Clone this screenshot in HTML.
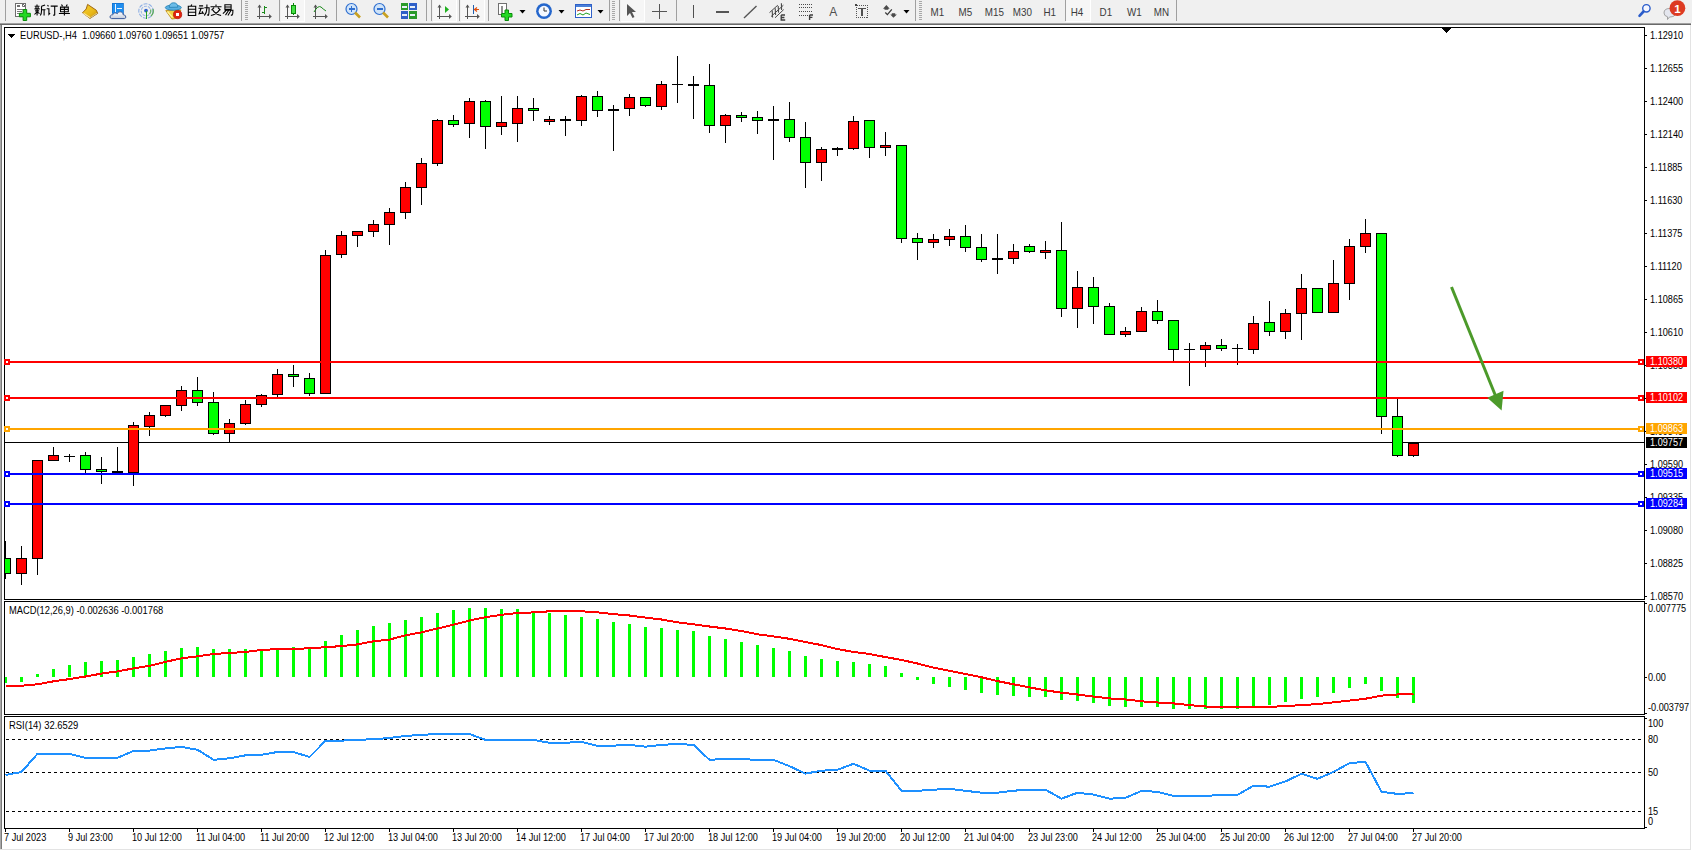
<!DOCTYPE html>
<html><head><meta charset="utf-8"><title>MT4 EURUSD H4</title>
<style>
html,body{margin:0;padding:0;width:1692px;height:851px;overflow:hidden;background:#FFFFFF;}
svg{display:block;position:absolute;left:0;top:0;}
text{font-family:"Liberation Sans",sans-serif;}
</style></head><body>
<svg width="1692" height="851" viewBox="0 0 1692 851" shape-rendering="crispEdges">
<rect x="0" y="0" width="1692" height="851" fill="#FFFFFF"/>
<rect x="0" y="0" width="1692" height="23" fill="#F0F0F0"/>
<rect x="0" y="23" width="1691" height="1" fill="#A0A0A0"/>
<rect x="0" y="24" width="1691" height="1" fill="#696969"/>
<rect x="2" y="25" width="1688" height="824" fill="#FFFFFF"/>
<rect x="0" y="25" width="1" height="824" fill="#A9A9A9"/>
<rect x="1" y="25" width="1" height="824" fill="#7A7A7A"/>
<rect x="1690" y="25" width="1" height="825" fill="#E3E3E3"/>
<rect x="0" y="849" width="1691" height="1" fill="#E3E3E3"/>
<rect x="4" y="27" width="1641" height="1" fill="#000"/><rect x="4" y="599" width="1641" height="1" fill="#000"/><rect x="4" y="27" width="1" height="573" fill="#000"/><rect x="1644" y="27" width="1" height="573" fill="#000"/>
<rect x="4" y="601" width="1641" height="1" fill="#000"/><rect x="4" y="714" width="1641" height="1" fill="#000"/><rect x="4" y="601" width="1" height="114" fill="#000"/><rect x="1644" y="601" width="1" height="114" fill="#000"/>
<rect x="4" y="716" width="1641" height="1" fill="#000"/><rect x="4" y="828" width="1641" height="1" fill="#000"/><rect x="4" y="716" width="1" height="113" fill="#000"/><rect x="1644" y="716" width="1" height="113" fill="#000"/>
<defs><clipPath id="cm"><rect x="5" y="28" width="1639" height="571"/></clipPath><clipPath id="cmacd"><rect x="5" y="602" width="1639" height="112"/></clipPath><clipPath id="crsi"><rect x="5" y="717" width="1639" height="111"/></clipPath></defs>
<g clip-path="url(#cm)"><rect x="5" y="442" width="1639" height="1" fill="#000"/><rect x="5" y="541" width="1" height="38" fill="#000"/><rect x="0" y="558" width="11" height="16" fill="#000"/><rect x="1" y="559" width="9" height="14" fill="#00FF00"/><rect x="21" y="546" width="1" height="39" fill="#000"/><rect x="16" y="558" width="11" height="16" fill="#000"/><rect x="17" y="559" width="9" height="14" fill="#FF0000"/><rect x="37" y="460" width="1" height="115" fill="#000"/><rect x="32" y="460" width="11" height="99" fill="#000"/><rect x="33" y="461" width="9" height="97" fill="#FF0000"/><rect x="53" y="447" width="1" height="14" fill="#000"/><rect x="48" y="455" width="11" height="6" fill="#000"/><rect x="49" y="456" width="9" height="4" fill="#FF0000"/><rect x="69" y="454" width="1" height="8" fill="#000"/><rect x="64" y="456" width="11" height="1" fill="#000"/><rect x="85" y="452" width="1" height="21" fill="#000"/><rect x="80" y="455" width="11" height="15" fill="#000"/><rect x="81" y="456" width="9" height="13" fill="#00FF00"/><rect x="101" y="457" width="1" height="27" fill="#000"/><rect x="96" y="469" width="11" height="3" fill="#000"/><rect x="97" y="470" width="9" height="1" fill="#00FF00"/><rect x="117" y="447" width="1" height="27" fill="#000"/><rect x="112" y="471" width="11" height="2" fill="#000"/><rect x="133" y="422" width="1" height="64" fill="#000"/><rect x="128" y="425" width="11" height="48" fill="#000"/><rect x="129" y="426" width="9" height="46" fill="#FF0000"/><rect x="149" y="412" width="1" height="24" fill="#000"/><rect x="144" y="415" width="11" height="12" fill="#000"/><rect x="145" y="416" width="9" height="10" fill="#FF0000"/><rect x="165" y="405" width="1" height="12" fill="#000"/><rect x="160" y="405" width="11" height="11" fill="#000"/><rect x="161" y="406" width="9" height="9" fill="#FF0000"/><rect x="181" y="386" width="1" height="25" fill="#000"/><rect x="176" y="390" width="11" height="16" fill="#000"/><rect x="177" y="391" width="9" height="14" fill="#FF0000"/><rect x="197" y="377" width="1" height="29" fill="#000"/><rect x="192" y="390" width="11" height="13" fill="#000"/><rect x="193" y="391" width="9" height="11" fill="#00FF00"/><rect x="213" y="392" width="1" height="43" fill="#000"/><rect x="208" y="402" width="11" height="32" fill="#000"/><rect x="209" y="403" width="9" height="30" fill="#00FF00"/><rect x="229" y="419" width="1" height="23" fill="#000"/><rect x="224" y="423" width="11" height="11" fill="#000"/><rect x="225" y="424" width="9" height="9" fill="#FF0000"/><rect x="245" y="400" width="1" height="25" fill="#000"/><rect x="240" y="404" width="11" height="20" fill="#000"/><rect x="241" y="405" width="9" height="18" fill="#FF0000"/><rect x="261" y="394" width="1" height="13" fill="#000"/><rect x="256" y="395" width="11" height="10" fill="#000"/><rect x="257" y="396" width="9" height="8" fill="#FF0000"/><rect x="277" y="369" width="1" height="28" fill="#000"/><rect x="272" y="374" width="11" height="21" fill="#000"/><rect x="273" y="375" width="9" height="19" fill="#FF0000"/><rect x="293" y="365" width="1" height="22" fill="#000"/><rect x="288" y="374" width="11" height="3" fill="#000"/><rect x="289" y="375" width="9" height="1" fill="#00FF00"/><rect x="309" y="373" width="1" height="23" fill="#000"/><rect x="304" y="378" width="11" height="16" fill="#000"/><rect x="305" y="379" width="9" height="14" fill="#00FF00"/><rect x="325" y="250" width="1" height="144" fill="#000"/><rect x="320" y="255" width="11" height="139" fill="#000"/><rect x="321" y="256" width="9" height="137" fill="#FF0000"/><rect x="341" y="231" width="1" height="27" fill="#000"/><rect x="336" y="235" width="11" height="20" fill="#000"/><rect x="337" y="236" width="9" height="18" fill="#FF0000"/><rect x="357" y="231" width="1" height="16" fill="#000"/><rect x="352" y="231" width="11" height="5" fill="#000"/><rect x="353" y="232" width="9" height="3" fill="#FF0000"/><rect x="373" y="220" width="1" height="17" fill="#000"/><rect x="368" y="224" width="11" height="8" fill="#000"/><rect x="369" y="225" width="9" height="6" fill="#FF0000"/><rect x="389" y="208" width="1" height="37" fill="#000"/><rect x="384" y="212" width="11" height="13" fill="#000"/><rect x="385" y="213" width="9" height="11" fill="#FF0000"/><rect x="405" y="182" width="1" height="37" fill="#000"/><rect x="400" y="187" width="11" height="26" fill="#000"/><rect x="401" y="188" width="9" height="24" fill="#FF0000"/><rect x="421" y="158" width="1" height="47" fill="#000"/><rect x="416" y="163" width="11" height="25" fill="#000"/><rect x="417" y="164" width="9" height="23" fill="#FF0000"/><rect x="437" y="119" width="1" height="47" fill="#000"/><rect x="432" y="120" width="11" height="44" fill="#000"/><rect x="433" y="121" width="9" height="42" fill="#FF0000"/><rect x="453" y="115" width="1" height="12" fill="#000"/><rect x="448" y="120" width="11" height="5" fill="#000"/><rect x="449" y="121" width="9" height="3" fill="#00FF00"/><rect x="469" y="98" width="1" height="40" fill="#000"/><rect x="464" y="101" width="11" height="23" fill="#000"/><rect x="465" y="102" width="9" height="21" fill="#FF0000"/><rect x="485" y="100" width="1" height="49" fill="#000"/><rect x="480" y="101" width="11" height="26" fill="#000"/><rect x="481" y="102" width="9" height="24" fill="#00FF00"/><rect x="501" y="96" width="1" height="39" fill="#000"/><rect x="496" y="122" width="11" height="5" fill="#000"/><rect x="497" y="123" width="9" height="3" fill="#FF0000"/><rect x="517" y="96" width="1" height="46" fill="#000"/><rect x="512" y="108" width="11" height="16" fill="#000"/><rect x="513" y="109" width="9" height="14" fill="#FF0000"/><rect x="533" y="98" width="1" height="23" fill="#000"/><rect x="528" y="108" width="11" height="3" fill="#000"/><rect x="529" y="109" width="9" height="1" fill="#00FF00"/><rect x="549" y="116" width="1" height="9" fill="#000"/><rect x="544" y="119" width="11" height="3" fill="#000"/><rect x="545" y="120" width="9" height="1" fill="#FF0000"/><rect x="565" y="116" width="1" height="20" fill="#000"/><rect x="560" y="119" width="11" height="2" fill="#000"/><rect x="581" y="95" width="1" height="31" fill="#000"/><rect x="576" y="96" width="11" height="25" fill="#000"/><rect x="577" y="97" width="9" height="23" fill="#FF0000"/><rect x="597" y="91" width="1" height="26" fill="#000"/><rect x="592" y="96" width="11" height="15" fill="#000"/><rect x="593" y="97" width="9" height="13" fill="#00FF00"/><rect x="613" y="105" width="1" height="46" fill="#000"/><rect x="608" y="109" width="11" height="2" fill="#000"/><rect x="629" y="94" width="1" height="22" fill="#000"/><rect x="624" y="97" width="11" height="12" fill="#000"/><rect x="625" y="98" width="9" height="10" fill="#FF0000"/><rect x="645" y="97" width="1" height="10" fill="#000"/><rect x="640" y="97" width="11" height="9" fill="#000"/><rect x="641" y="98" width="9" height="7" fill="#00FF00"/><rect x="661" y="81" width="1" height="29" fill="#000"/><rect x="656" y="84" width="11" height="23" fill="#000"/><rect x="657" y="85" width="9" height="21" fill="#FF0000"/><rect x="677" y="56" width="1" height="47" fill="#000"/><rect x="672" y="84" width="11" height="1" fill="#000"/><rect x="693" y="76" width="1" height="43" fill="#000"/><rect x="688" y="84" width="11" height="2" fill="#000"/><rect x="709" y="64" width="1" height="69" fill="#000"/><rect x="704" y="85" width="11" height="41" fill="#000"/><rect x="705" y="86" width="9" height="39" fill="#00FF00"/><rect x="725" y="114" width="1" height="29" fill="#000"/><rect x="720" y="115" width="11" height="11" fill="#000"/><rect x="721" y="116" width="9" height="9" fill="#FF0000"/><rect x="741" y="112" width="1" height="10" fill="#000"/><rect x="736" y="115" width="11" height="3" fill="#000"/><rect x="737" y="116" width="9" height="1" fill="#00FF00"/><rect x="757" y="111" width="1" height="23" fill="#000"/><rect x="752" y="117" width="11" height="4" fill="#000"/><rect x="753" y="118" width="9" height="2" fill="#00FF00"/><rect x="773" y="106" width="1" height="54" fill="#000"/><rect x="768" y="119" width="11" height="2" fill="#000"/><rect x="789" y="102" width="1" height="40" fill="#000"/><rect x="784" y="119" width="11" height="19" fill="#000"/><rect x="785" y="120" width="9" height="17" fill="#00FF00"/><rect x="805" y="122" width="1" height="66" fill="#000"/><rect x="800" y="137" width="11" height="26" fill="#000"/><rect x="801" y="138" width="9" height="24" fill="#00FF00"/><rect x="821" y="147" width="1" height="34" fill="#000"/><rect x="816" y="149" width="11" height="14" fill="#000"/><rect x="817" y="150" width="9" height="12" fill="#FF0000"/><rect x="837" y="147" width="1" height="9" fill="#000"/><rect x="832" y="148" width="11" height="2" fill="#000"/><rect x="853" y="116" width="1" height="34" fill="#000"/><rect x="848" y="121" width="11" height="28" fill="#000"/><rect x="849" y="122" width="9" height="26" fill="#FF0000"/><rect x="869" y="120" width="1" height="38" fill="#000"/><rect x="864" y="120" width="11" height="28" fill="#000"/><rect x="865" y="121" width="9" height="26" fill="#00FF00"/><rect x="885" y="132" width="1" height="24" fill="#000"/><rect x="880" y="145" width="11" height="3" fill="#000"/><rect x="881" y="146" width="9" height="1" fill="#FF0000"/><rect x="901" y="145" width="1" height="98" fill="#000"/><rect x="896" y="145" width="11" height="94" fill="#000"/><rect x="897" y="146" width="9" height="92" fill="#00FF00"/><rect x="917" y="233" width="1" height="27" fill="#000"/><rect x="912" y="238" width="11" height="5" fill="#000"/><rect x="913" y="239" width="9" height="3" fill="#00FF00"/><rect x="933" y="234" width="1" height="14" fill="#000"/><rect x="928" y="239" width="11" height="4" fill="#000"/><rect x="929" y="240" width="9" height="2" fill="#FF0000"/><rect x="949" y="229" width="1" height="17" fill="#000"/><rect x="944" y="236" width="11" height="4" fill="#000"/><rect x="945" y="237" width="9" height="2" fill="#FF0000"/><rect x="965" y="225" width="1" height="27" fill="#000"/><rect x="960" y="236" width="11" height="12" fill="#000"/><rect x="961" y="237" width="9" height="10" fill="#00FF00"/><rect x="981" y="234" width="1" height="28" fill="#000"/><rect x="976" y="247" width="11" height="13" fill="#000"/><rect x="977" y="248" width="9" height="11" fill="#00FF00"/><rect x="997" y="234" width="1" height="40" fill="#000"/><rect x="992" y="258" width="11" height="2" fill="#000"/><rect x="1013" y="244" width="1" height="20" fill="#000"/><rect x="1008" y="251" width="11" height="8" fill="#000"/><rect x="1009" y="252" width="9" height="6" fill="#FF0000"/><rect x="1029" y="244" width="1" height="9" fill="#000"/><rect x="1024" y="246" width="11" height="6" fill="#000"/><rect x="1025" y="247" width="9" height="4" fill="#00FF00"/><rect x="1045" y="241" width="1" height="18" fill="#000"/><rect x="1040" y="250" width="11" height="3" fill="#000"/><rect x="1041" y="251" width="9" height="1" fill="#FF0000"/><rect x="1061" y="222" width="1" height="95" fill="#000"/><rect x="1056" y="250" width="11" height="59" fill="#000"/><rect x="1057" y="251" width="9" height="57" fill="#00FF00"/><rect x="1077" y="271" width="1" height="57" fill="#000"/><rect x="1072" y="287" width="11" height="22" fill="#000"/><rect x="1073" y="288" width="9" height="20" fill="#FF0000"/><rect x="1093" y="277" width="1" height="47" fill="#000"/><rect x="1088" y="287" width="11" height="20" fill="#000"/><rect x="1089" y="288" width="9" height="18" fill="#00FF00"/><rect x="1109" y="303" width="1" height="32" fill="#000"/><rect x="1104" y="306" width="11" height="29" fill="#000"/><rect x="1105" y="307" width="9" height="27" fill="#00FF00"/><rect x="1125" y="327" width="1" height="10" fill="#000"/><rect x="1120" y="331" width="11" height="4" fill="#000"/><rect x="1121" y="332" width="9" height="2" fill="#FF0000"/><rect x="1141" y="307" width="1" height="25" fill="#000"/><rect x="1136" y="311" width="11" height="21" fill="#000"/><rect x="1137" y="312" width="9" height="19" fill="#FF0000"/><rect x="1157" y="300" width="1" height="24" fill="#000"/><rect x="1152" y="311" width="11" height="10" fill="#000"/><rect x="1153" y="312" width="9" height="8" fill="#00FF00"/><rect x="1173" y="320" width="1" height="41" fill="#000"/><rect x="1168" y="320" width="11" height="30" fill="#000"/><rect x="1169" y="321" width="9" height="28" fill="#00FF00"/><rect x="1189" y="343" width="1" height="43" fill="#000"/><rect x="1184" y="349" width="11" height="1" fill="#000"/><rect x="1205" y="342" width="1" height="25" fill="#000"/><rect x="1200" y="345" width="11" height="5" fill="#000"/><rect x="1201" y="346" width="9" height="3" fill="#FF0000"/><rect x="1221" y="339" width="1" height="12" fill="#000"/><rect x="1216" y="345" width="11" height="4" fill="#000"/><rect x="1217" y="346" width="9" height="2" fill="#00FF00"/><rect x="1237" y="344" width="1" height="21" fill="#000"/><rect x="1232" y="348" width="11" height="1" fill="#000"/><rect x="1253" y="316" width="1" height="38" fill="#000"/><rect x="1248" y="323" width="11" height="27" fill="#000"/><rect x="1249" y="324" width="9" height="25" fill="#FF0000"/><rect x="1269" y="301" width="1" height="35" fill="#000"/><rect x="1264" y="322" width="11" height="10" fill="#000"/><rect x="1265" y="323" width="9" height="8" fill="#00FF00"/><rect x="1285" y="309" width="1" height="30" fill="#000"/><rect x="1280" y="313" width="11" height="19" fill="#000"/><rect x="1281" y="314" width="9" height="17" fill="#FF0000"/><rect x="1301" y="274" width="1" height="66" fill="#000"/><rect x="1296" y="288" width="11" height="26" fill="#000"/><rect x="1297" y="289" width="9" height="24" fill="#FF0000"/><rect x="1317" y="288" width="1" height="25" fill="#000"/><rect x="1312" y="288" width="11" height="25" fill="#000"/><rect x="1313" y="289" width="9" height="23" fill="#00FF00"/><rect x="1333" y="260" width="1" height="53" fill="#000"/><rect x="1328" y="283" width="11" height="30" fill="#000"/><rect x="1329" y="284" width="9" height="28" fill="#FF0000"/><rect x="1349" y="239" width="1" height="61" fill="#000"/><rect x="1344" y="246" width="11" height="38" fill="#000"/><rect x="1345" y="247" width="9" height="36" fill="#FF0000"/><rect x="1365" y="219" width="1" height="34" fill="#000"/><rect x="1360" y="233" width="11" height="14" fill="#000"/><rect x="1361" y="234" width="9" height="12" fill="#FF0000"/><rect x="1381" y="233" width="1" height="201" fill="#000"/><rect x="1376" y="233" width="11" height="184" fill="#000"/><rect x="1377" y="234" width="9" height="182" fill="#00FF00"/><rect x="1397" y="399" width="1" height="58" fill="#000"/><rect x="1392" y="416" width="11" height="40" fill="#000"/><rect x="1393" y="417" width="9" height="38" fill="#00FF00"/><rect x="1413" y="443" width="1" height="14" fill="#000"/><rect x="1408" y="443" width="11" height="13" fill="#000"/><rect x="1409" y="444" width="9" height="11" fill="#FF0000"/><rect x="5" y="361" width="1639" height="2" fill="#FF0000"/><rect x="5" y="397" width="1639" height="2" fill="#FF0000"/><rect x="5" y="428" width="1639" height="2" fill="#FFA500"/><rect x="5" y="473" width="1639" height="2" fill="#0000FF"/><rect x="5" y="503" width="1639" height="2" fill="#0000FF"/></g>
<rect x="4" y="359" width="6" height="6" fill="#FF0000"/><rect x="6" y="361" width="2" height="2" fill="#FFF"/>
<rect x="1638" y="359" width="6" height="6" fill="#FF0000"/><rect x="1640" y="361" width="2" height="2" fill="#FFF"/>
<rect x="4" y="395" width="6" height="6" fill="#FF0000"/><rect x="6" y="397" width="2" height="2" fill="#FFF"/>
<rect x="1638" y="395" width="6" height="6" fill="#FF0000"/><rect x="1640" y="397" width="2" height="2" fill="#FFF"/>
<rect x="4" y="426" width="6" height="6" fill="#FFA500"/><rect x="6" y="428" width="2" height="2" fill="#FFF"/>
<rect x="1638" y="426" width="6" height="6" fill="#FFA500"/><rect x="1640" y="428" width="2" height="2" fill="#FFF"/>
<rect x="4" y="471" width="6" height="6" fill="#0000FF"/><rect x="6" y="473" width="2" height="2" fill="#FFF"/>
<rect x="1638" y="471" width="6" height="6" fill="#0000FF"/><rect x="1640" y="473" width="2" height="2" fill="#FFF"/>
<rect x="4" y="501" width="6" height="6" fill="#0000FF"/><rect x="6" y="503" width="2" height="2" fill="#FFF"/>
<rect x="1638" y="501" width="6" height="6" fill="#0000FF"/><rect x="1640" y="503" width="2" height="2" fill="#FFF"/>
<g fill="#4C9A2A" stroke="none" shape-rendering="geometricPrecision"><line x1="1451.5" y1="287" x2="1496" y2="397" stroke="#4C9A2A" stroke-width="3"/><polygon points="1487.3,397.8 1503.5,390.8 1501.6,410.5"/></g>
<polygon points="1441.5,28 1451.5,28 1446.5,33.5" fill="#000"/>
<g clip-path="url(#cmacd)"><rect x="4" y="677" width="3" height="6" fill="#00FF00"/><rect x="20" y="677" width="3" height="5" fill="#00FF00"/><rect x="36" y="674" width="3" height="3" fill="#00FF00"/><rect x="52" y="669" width="3" height="8" fill="#00FF00"/><rect x="68" y="665" width="3" height="12" fill="#00FF00"/><rect x="84" y="662" width="3" height="15" fill="#00FF00"/><rect x="100" y="661" width="3" height="16" fill="#00FF00"/><rect x="116" y="660" width="3" height="17" fill="#00FF00"/><rect x="132" y="657" width="3" height="20" fill="#00FF00"/><rect x="148" y="654" width="3" height="23" fill="#00FF00"/><rect x="164" y="651" width="3" height="26" fill="#00FF00"/><rect x="180" y="648" width="3" height="29" fill="#00FF00"/><rect x="196" y="647" width="3" height="30" fill="#00FF00"/><rect x="212" y="649" width="3" height="28" fill="#00FF00"/><rect x="228" y="649" width="3" height="28" fill="#00FF00"/><rect x="244" y="649" width="3" height="28" fill="#00FF00"/><rect x="260" y="649" width="3" height="28" fill="#00FF00"/><rect x="276" y="648" width="3" height="29" fill="#00FF00"/><rect x="292" y="647" width="3" height="30" fill="#00FF00"/><rect x="308" y="648" width="3" height="29" fill="#00FF00"/><rect x="324" y="641" width="3" height="36" fill="#00FF00"/><rect x="340" y="635" width="3" height="42" fill="#00FF00"/><rect x="356" y="630" width="3" height="47" fill="#00FF00"/><rect x="372" y="626" width="3" height="51" fill="#00FF00"/><rect x="388" y="623" width="3" height="54" fill="#00FF00"/><rect x="404" y="620" width="3" height="57" fill="#00FF00"/><rect x="420" y="617" width="3" height="60" fill="#00FF00"/><rect x="436" y="613" width="3" height="64" fill="#00FF00"/><rect x="452" y="610" width="3" height="67" fill="#00FF00"/><rect x="468" y="608" width="3" height="69" fill="#00FF00"/><rect x="484" y="608" width="3" height="69" fill="#00FF00"/><rect x="500" y="609" width="3" height="68" fill="#00FF00"/><rect x="516" y="609" width="3" height="68" fill="#00FF00"/><rect x="532" y="611" width="3" height="66" fill="#00FF00"/><rect x="548" y="613" width="3" height="64" fill="#00FF00"/><rect x="564" y="615" width="3" height="62" fill="#00FF00"/><rect x="580" y="617" width="3" height="60" fill="#00FF00"/><rect x="596" y="619" width="3" height="58" fill="#00FF00"/><rect x="612" y="622" width="3" height="55" fill="#00FF00"/><rect x="628" y="624" width="3" height="53" fill="#00FF00"/><rect x="644" y="627" width="3" height="50" fill="#00FF00"/><rect x="660" y="628" width="3" height="49" fill="#00FF00"/><rect x="676" y="630" width="3" height="47" fill="#00FF00"/><rect x="692" y="631" width="3" height="46" fill="#00FF00"/><rect x="708" y="636" width="3" height="41" fill="#00FF00"/><rect x="724" y="639" width="3" height="38" fill="#00FF00"/><rect x="740" y="642" width="3" height="35" fill="#00FF00"/><rect x="756" y="645" width="3" height="32" fill="#00FF00"/><rect x="772" y="648" width="3" height="29" fill="#00FF00"/><rect x="788" y="651" width="3" height="26" fill="#00FF00"/><rect x="804" y="656" width="3" height="21" fill="#00FF00"/><rect x="820" y="659" width="3" height="18" fill="#00FF00"/><rect x="836" y="661" width="3" height="16" fill="#00FF00"/><rect x="852" y="662" width="3" height="15" fill="#00FF00"/><rect x="868" y="664" width="3" height="13" fill="#00FF00"/><rect x="884" y="666" width="3" height="11" fill="#00FF00"/><rect x="900" y="673" width="3" height="4" fill="#00FF00"/><rect x="916" y="677" width="3" height="3" fill="#00FF00"/><rect x="932" y="677" width="3" height="7" fill="#00FF00"/><rect x="948" y="677" width="3" height="10" fill="#00FF00"/><rect x="964" y="677" width="3" height="13" fill="#00FF00"/><rect x="980" y="677" width="3" height="16" fill="#00FF00"/><rect x="996" y="677" width="3" height="18" fill="#00FF00"/><rect x="1012" y="677" width="3" height="19" fill="#00FF00"/><rect x="1028" y="677" width="3" height="20" fill="#00FF00"/><rect x="1044" y="677" width="3" height="20" fill="#00FF00"/><rect x="1060" y="677" width="3" height="23" fill="#00FF00"/><rect x="1076" y="677" width="3" height="24" fill="#00FF00"/><rect x="1092" y="677" width="3" height="26" fill="#00FF00"/><rect x="1108" y="677" width="3" height="29" fill="#00FF00"/><rect x="1124" y="677" width="3" height="30" fill="#00FF00"/><rect x="1140" y="677" width="3" height="30" fill="#00FF00"/><rect x="1156" y="677" width="3" height="30" fill="#00FF00"/><rect x="1172" y="677" width="3" height="32" fill="#00FF00"/><rect x="1188" y="677" width="3" height="32" fill="#00FF00"/><rect x="1204" y="677" width="3" height="32" fill="#00FF00"/><rect x="1220" y="677" width="3" height="32" fill="#00FF00"/><rect x="1236" y="677" width="3" height="32" fill="#00FF00"/><rect x="1252" y="677" width="3" height="29" fill="#00FF00"/><rect x="1268" y="677" width="3" height="28" fill="#00FF00"/><rect x="1284" y="677" width="3" height="25" fill="#00FF00"/><rect x="1300" y="677" width="3" height="22" fill="#00FF00"/><rect x="1316" y="677" width="3" height="20" fill="#00FF00"/><rect x="1332" y="677" width="3" height="16" fill="#00FF00"/><rect x="1348" y="677" width="3" height="11" fill="#00FF00"/><rect x="1364" y="677" width="3" height="7" fill="#00FF00"/><rect x="1380" y="677" width="3" height="14" fill="#00FF00"/><rect x="1396" y="677" width="3" height="21" fill="#00FF00"/><rect x="1412" y="677" width="3" height="26" fill="#00FF00"/><polyline points="5.5,685.7 21.5,685.7 37.5,684.3 53.5,681.3 69.5,679.1 85.5,676.5 101.5,673.6 117.5,671.4 133.5,668.4 149.5,665.8 165.5,661.8 181.5,658.4 197.5,656.3 213.5,654 229.5,653 245.5,651.9 261.5,650 277.5,649.1 293.5,648.7 309.5,648.4 325.5,647.2 341.5,646.1 357.5,644.4 373.5,641.3 389.5,639.6 405.5,635.3 421.5,632.4 437.5,628.5 453.5,624.7 469.5,620.5 485.5,617.2 501.5,614.8 517.5,613 533.5,612.4 549.5,611.3 565.5,610.7 581.5,611.3 597.5,612.3 613.5,614.1 629.5,615.5 645.5,617.6 661.5,619.5 677.5,622.3 693.5,624.3 709.5,626.5 725.5,628.5 741.5,631 757.5,634.3 773.5,636.4 789.5,638.8 805.5,642 821.5,645.1 837.5,649.1 853.5,651.9 869.5,654 885.5,657.1 901.5,659.9 917.5,663.5 933.5,667.7 949.5,670.8 965.5,674 981.5,677.3 997.5,681.1 1013.5,684.3 1029.5,687.4 1045.5,690.3 1061.5,692.7 1077.5,694.5 1093.5,696.6 1109.5,698.4 1125.5,699.4 1141.5,701.3 1157.5,702.5 1173.5,703.4 1189.5,705.1 1205.5,706.5 1221.5,706.9 1237.5,706.9 1253.5,706.9 1269.5,706.9 1285.5,706.1 1301.5,705.1 1317.5,704.1 1333.5,702.3 1349.5,700.6 1365.5,698.7 1381.5,695.6 1397.5,694.5 1413.5,693.8" fill="none" stroke="#FF0000" stroke-width="2" stroke-linejoin="round" shape-rendering="crispEdges"/></g>
<g clip-path="url(#crsi)"><line x1="6" y1="739.5" x2="1644" y2="739.5" stroke="#000" stroke-width="1" stroke-dasharray="3 3" shape-rendering="crispEdges"/><line x1="6" y1="772.5" x2="1644" y2="772.5" stroke="#000" stroke-width="1" stroke-dasharray="3 3" shape-rendering="crispEdges"/><line x1="6" y1="811.5" x2="1644" y2="811.5" stroke="#000" stroke-width="1" stroke-dasharray="3 3" shape-rendering="crispEdges"/><polyline points="5.5,775 21.5,772 37.5,753.8 53.5,753.8 69.5,753.8 85.5,757.8 101.5,757.8 117.5,757.8 133.5,750.9 149.5,750.6 165.5,748.4 181.5,746.9 197.5,749.8 213.5,759.8 229.5,758.3 245.5,755.3 261.5,754.8 277.5,752 293.5,752 309.5,757 325.5,740.9 341.5,740.6 357.5,739.9 373.5,739.2 389.5,738 405.5,735.9 421.5,734.9 437.5,734 453.5,734 469.5,734 485.5,739.9 501.5,739.9 517.5,739.9 533.5,739.9 549.5,742.8 565.5,742.8 581.5,741.8 597.5,745.8 613.5,745.6 629.5,744.9 645.5,746.7 661.5,744.9 677.5,743.9 693.5,744.9 709.5,759.8 725.5,759 741.5,759.2 757.5,759.8 773.5,759.8 789.5,766.2 805.5,773.6 821.5,770.7 837.5,769.8 853.5,763.8 869.5,770.7 885.5,770.7 901.5,790.8 917.5,790.8 933.5,789.7 949.5,788.8 965.5,790.8 981.5,792.7 997.5,792.7 1013.5,790.7 1029.5,789.7 1045.5,789.7 1061.5,798.7 1077.5,792.7 1093.5,794.6 1109.5,798.7 1125.5,797.8 1141.5,790.9 1157.5,791.8 1173.5,795.9 1189.5,795.9 1205.5,795.9 1221.5,794.9 1237.5,794.9 1253.5,785.7 1269.5,786.7 1285.5,781.4 1301.5,773.8 1317.5,778.8 1333.5,771.9 1349.5,763.1 1365.5,761.9 1381.5,791.8 1397.5,793.9 1413.5,793.1" fill="none" stroke="#1E90FF" stroke-width="2" stroke-linejoin="round" shape-rendering="crispEdges"/></g>
<g font-family='"Liberation Sans", sans-serif'><polygon points="8,34 15,34 11.5,38" fill="#000"/><text transform="translate(20 39) scale(0.922 1)" font-size="10.1" fill="#000" text-anchor="start" font-weight="normal" >EURUSD-,H4&#160;&#160;1.09660 1.09760 1.09651 1.09757</text><text transform="translate(9 614) scale(0.927 1)" font-size="10.1" fill="#000" text-anchor="start" font-weight="normal" >MACD(12,26,9) -0.002636 -0.001768</text><text transform="translate(9 728.6) scale(0.936 1)" font-size="10.1" fill="#000" text-anchor="start" font-weight="normal" >RSI(14) 32.6529</text><rect x="1645" y="35" width="2" height="1" fill="#000"/><text transform="translate(1650 39) scale(0.908 1)" font-size="10.1" fill="#000" text-anchor="start" font-weight="normal" >1.12910</text><rect x="1645" y="68" width="2" height="1" fill="#000"/><text transform="translate(1650 72) scale(0.908 1)" font-size="10.1" fill="#000" text-anchor="start" font-weight="normal" >1.12655</text><rect x="1645" y="101" width="2" height="1" fill="#000"/><text transform="translate(1650 105) scale(0.908 1)" font-size="10.1" fill="#000" text-anchor="start" font-weight="normal" >1.12400</text><rect x="1645" y="134" width="2" height="1" fill="#000"/><text transform="translate(1650 138) scale(0.908 1)" font-size="10.1" fill="#000" text-anchor="start" font-weight="normal" >1.12140</text><rect x="1645" y="167" width="2" height="1" fill="#000"/><text transform="translate(1650 171) scale(0.908 1)" font-size="10.1" fill="#000" text-anchor="start" font-weight="normal" >1.11885</text><rect x="1645" y="200" width="2" height="1" fill="#000"/><text transform="translate(1650 204) scale(0.908 1)" font-size="10.1" fill="#000" text-anchor="start" font-weight="normal" >1.11630</text><rect x="1645" y="233" width="2" height="1" fill="#000"/><text transform="translate(1650 237) scale(0.908 1)" font-size="10.1" fill="#000" text-anchor="start" font-weight="normal" >1.11375</text><rect x="1645" y="266" width="2" height="1" fill="#000"/><text transform="translate(1650 270) scale(0.908 1)" font-size="10.1" fill="#000" text-anchor="start" font-weight="normal" >1.11120</text><rect x="1645" y="299" width="2" height="1" fill="#000"/><text transform="translate(1650 303) scale(0.908 1)" font-size="10.1" fill="#000" text-anchor="start" font-weight="normal" >1.10865</text><rect x="1645" y="332" width="2" height="1" fill="#000"/><text transform="translate(1650 336) scale(0.908 1)" font-size="10.1" fill="#000" text-anchor="start" font-weight="normal" >1.10610</text><rect x="1645" y="365" width="2" height="1" fill="#000"/><text transform="translate(1650 369) scale(0.908 1)" font-size="10.1" fill="#000" text-anchor="start" font-weight="normal" >1.10355</text><rect x="1645" y="398" width="2" height="1" fill="#000"/><text transform="translate(1650 402) scale(0.908 1)" font-size="10.1" fill="#000" text-anchor="start" font-weight="normal" >1.10100</text><rect x="1645" y="431" width="2" height="1" fill="#000"/><text transform="translate(1650 435) scale(0.908 1)" font-size="10.1" fill="#000" text-anchor="start" font-weight="normal" >1.09845</text><rect x="1645" y="464" width="2" height="1" fill="#000"/><text transform="translate(1650 468) scale(0.908 1)" font-size="10.1" fill="#000" text-anchor="start" font-weight="normal" >1.09590</text><rect x="1645" y="497" width="2" height="1" fill="#000"/><text transform="translate(1650 501) scale(0.908 1)" font-size="10.1" fill="#000" text-anchor="start" font-weight="normal" >1.09335</text><rect x="1645" y="530" width="2" height="1" fill="#000"/><text transform="translate(1650 534) scale(0.908 1)" font-size="10.1" fill="#000" text-anchor="start" font-weight="normal" >1.09080</text><rect x="1645" y="563" width="2" height="1" fill="#000"/><text transform="translate(1650 567) scale(0.908 1)" font-size="10.1" fill="#000" text-anchor="start" font-weight="normal" >1.08825</text><rect x="1645" y="596" width="2" height="1" fill="#000"/><text transform="translate(1650 600) scale(0.908 1)" font-size="10.1" fill="#000" text-anchor="start" font-weight="normal" >1.08570</text><rect x="1646" y="356" width="41" height="11" fill="#FF0000"/><text transform="translate(1650 365) scale(0.908 1)" font-size="10.1" fill="#FFF" text-anchor="start" font-weight="normal" >1.10380</text><rect x="1646" y="392" width="41" height="11" fill="#FF0000"/><text transform="translate(1650 401) scale(0.908 1)" font-size="10.1" fill="#FFF" text-anchor="start" font-weight="normal" >1.10102</text><rect x="1646" y="423" width="41" height="11" fill="#FFA500"/><text transform="translate(1650 432) scale(0.908 1)" font-size="10.1" fill="#FFF" text-anchor="start" font-weight="normal" >1.09863</text><rect x="1646" y="437" width="41" height="11" fill="#000000"/><text transform="translate(1650 446) scale(0.908 1)" font-size="10.1" fill="#FFF" text-anchor="start" font-weight="normal" >1.09757</text><rect x="1646" y="468" width="41" height="11" fill="#0000FF"/><text transform="translate(1650 477) scale(0.908 1)" font-size="10.1" fill="#FFF" text-anchor="start" font-weight="normal" >1.09515</text><rect x="1646" y="498" width="41" height="11" fill="#0000FF"/><text transform="translate(1650 507) scale(0.908 1)" font-size="10.1" fill="#FFF" text-anchor="start" font-weight="normal" >1.09284</text><rect x="1645" y="603" width="2" height="1" fill="#000"/><text transform="translate(1648 612) scale(0.908 1)" font-size="10.1" fill="#000" text-anchor="start" font-weight="normal" >0.007775</text><rect x="1645" y="677" width="2" height="1" fill="#000"/><text transform="translate(1648 681) scale(0.908 1)" font-size="10.1" fill="#000" text-anchor="start" font-weight="normal" >0.00</text><rect x="1645" y="713" width="2" height="1" fill="#000"/><text transform="translate(1648 711) scale(0.908 1)" font-size="10.1" fill="#000" text-anchor="start" font-weight="normal" >-0.003797</text><text transform="translate(1648 727) scale(0.908 1)" font-size="10.1" fill="#000" text-anchor="start" font-weight="normal" >100</text><text transform="translate(1648 743) scale(0.908 1)" font-size="10.1" fill="#000" text-anchor="start" font-weight="normal" >80</text><text transform="translate(1648 776) scale(0.908 1)" font-size="10.1" fill="#000" text-anchor="start" font-weight="normal" >50</text><text transform="translate(1648 815) scale(0.908 1)" font-size="10.1" fill="#000" text-anchor="start" font-weight="normal" >15</text><text transform="translate(1648 825) scale(0.908 1)" font-size="10.1" fill="#000" text-anchor="start" font-weight="normal" >0</text><rect x="1645" y="718" width="2" height="1" fill="#000"/><rect x="1645" y="827" width="2" height="1" fill="#000"/><rect x="5" y="829" width="1" height="3" fill="#000"/><text transform="translate(4 841) scale(0.908 1)" font-size="10.1" fill="#000" text-anchor="start" font-weight="normal" >7 Jul 2023</text><rect x="69" y="829" width="1" height="3" fill="#000"/><text transform="translate(68 841) scale(0.908 1)" font-size="10.1" fill="#000" text-anchor="start" font-weight="normal" >9 Jul 23:00</text><rect x="133" y="829" width="1" height="3" fill="#000"/><text transform="translate(132 841) scale(0.908 1)" font-size="10.1" fill="#000" text-anchor="start" font-weight="normal" >10 Jul 12:00</text><rect x="197" y="829" width="1" height="3" fill="#000"/><text transform="translate(196 841) scale(0.908 1)" font-size="10.1" fill="#000" text-anchor="start" font-weight="normal" >11 Jul 04:00</text><rect x="261" y="829" width="1" height="3" fill="#000"/><text transform="translate(260 841) scale(0.908 1)" font-size="10.1" fill="#000" text-anchor="start" font-weight="normal" >11 Jul 20:00</text><rect x="325" y="829" width="1" height="3" fill="#000"/><text transform="translate(324 841) scale(0.908 1)" font-size="10.1" fill="#000" text-anchor="start" font-weight="normal" >12 Jul 12:00</text><rect x="389" y="829" width="1" height="3" fill="#000"/><text transform="translate(388 841) scale(0.908 1)" font-size="10.1" fill="#000" text-anchor="start" font-weight="normal" >13 Jul 04:00</text><rect x="453" y="829" width="1" height="3" fill="#000"/><text transform="translate(452 841) scale(0.908 1)" font-size="10.1" fill="#000" text-anchor="start" font-weight="normal" >13 Jul 20:00</text><rect x="517" y="829" width="1" height="3" fill="#000"/><text transform="translate(516 841) scale(0.908 1)" font-size="10.1" fill="#000" text-anchor="start" font-weight="normal" >14 Jul 12:00</text><rect x="581" y="829" width="1" height="3" fill="#000"/><text transform="translate(580 841) scale(0.908 1)" font-size="10.1" fill="#000" text-anchor="start" font-weight="normal" >17 Jul 04:00</text><rect x="645" y="829" width="1" height="3" fill="#000"/><text transform="translate(644 841) scale(0.908 1)" font-size="10.1" fill="#000" text-anchor="start" font-weight="normal" >17 Jul 20:00</text><rect x="709" y="829" width="1" height="3" fill="#000"/><text transform="translate(708 841) scale(0.908 1)" font-size="10.1" fill="#000" text-anchor="start" font-weight="normal" >18 Jul 12:00</text><rect x="773" y="829" width="1" height="3" fill="#000"/><text transform="translate(772 841) scale(0.908 1)" font-size="10.1" fill="#000" text-anchor="start" font-weight="normal" >19 Jul 04:00</text><rect x="837" y="829" width="1" height="3" fill="#000"/><text transform="translate(836 841) scale(0.908 1)" font-size="10.1" fill="#000" text-anchor="start" font-weight="normal" >19 Jul 20:00</text><rect x="901" y="829" width="1" height="3" fill="#000"/><text transform="translate(900 841) scale(0.908 1)" font-size="10.1" fill="#000" text-anchor="start" font-weight="normal" >20 Jul 12:00</text><rect x="965" y="829" width="1" height="3" fill="#000"/><text transform="translate(964 841) scale(0.908 1)" font-size="10.1" fill="#000" text-anchor="start" font-weight="normal" >21 Jul 04:00</text><rect x="1029" y="829" width="1" height="3" fill="#000"/><text transform="translate(1028 841) scale(0.908 1)" font-size="10.1" fill="#000" text-anchor="start" font-weight="normal" >23 Jul 23:00</text><rect x="1093" y="829" width="1" height="3" fill="#000"/><text transform="translate(1092 841) scale(0.908 1)" font-size="10.1" fill="#000" text-anchor="start" font-weight="normal" >24 Jul 12:00</text><rect x="1157" y="829" width="1" height="3" fill="#000"/><text transform="translate(1156 841) scale(0.908 1)" font-size="10.1" fill="#000" text-anchor="start" font-weight="normal" >25 Jul 04:00</text><rect x="1221" y="829" width="1" height="3" fill="#000"/><text transform="translate(1220 841) scale(0.908 1)" font-size="10.1" fill="#000" text-anchor="start" font-weight="normal" >25 Jul 20:00</text><rect x="1285" y="829" width="1" height="3" fill="#000"/><text transform="translate(1284 841) scale(0.908 1)" font-size="10.1" fill="#000" text-anchor="start" font-weight="normal" >26 Jul 12:00</text><rect x="1349" y="829" width="1" height="3" fill="#000"/><text transform="translate(1348 841) scale(0.908 1)" font-size="10.1" fill="#000" text-anchor="start" font-weight="normal" >27 Jul 04:00</text><rect x="1413" y="829" width="1" height="3" fill="#000"/><text transform="translate(1412 841) scale(0.908 1)" font-size="10.1" fill="#000" text-anchor="start" font-weight="normal" >27 Jul 20:00</text></g>
<g font-family='"Liberation Sans", sans-serif'><rect x="5" y="0" width="1" height="21" fill="#A0A0A0" /><rect x="15.5" y="3.5" width="10" height="13" fill="#FFFFFF" stroke="#6E6E6E" stroke-width="1"/><path d="M22.5,3.5 L25.5,6.5 L22.5,6.5 Z" fill="#FFFFFF" stroke="#6E6E6E" stroke-width="1" shape-rendering="geometricPrecision"/><rect x="17" y="5" width="3" height="1.5" fill="#6E6E6E" /><rect x="17" y="8.5" width="6" height="1" fill="#7A7A7A" /><rect x="17" y="10.5" width="5" height="1" fill="#7A7A7A" /><rect x="17" y="12.5" width="4" height="1" fill="#7A7A7A" /><path d="M23.1,9.5 h3.6 v3.8 h3.7 v3.5 h-3.7 v3.7 h-3.6 v-3.7 h-3.7 v-3.5 h3.7 Z" fill="#22D822" stroke="#0A8A0A" stroke-width="1" shape-rendering="geometricPrecision"/><path d="M2.5,0 V1.3 M0.2,1.8 H5 M1.2,2.6 L1.8,3.8 M3.9,2.6 L3.3,3.8 M0,4.4 H5.2 M0.6,6.4 H4.6 M2.6,4.4 V11 M2.5,7.3 L0,10 M2.7,7.3 L5,9.2 M10.6,0.4 L7,1.8 M7,1.8 V6.5 Q7,9.5 5.8,11 M7,5.2 H11 M9.6,5.2 V11" transform="translate(34.5 4.5) scale(1.0)" fill="none" stroke="#000" stroke-width="1.1" shape-rendering="geometricPrecision"/><path d="M0.8,0.6 L1.8,1.8 M0,4.3 H2.2 V9.8 L3.4,8.6 M4,1.6 H11 M8,1.6 V10.2 Q8,11 6.5,10.4" transform="translate(46.7 4.5) scale(1.0)" fill="none" stroke="#000" stroke-width="1.1" shape-rendering="geometricPrecision"/><path d="M2.6,0 L3.6,1.6 M8.4,0 L7.4,1.6 M1.6,2.6 H9.4 V7.2 H1.6 Z M1.6,4.9 H9.4 M5.5,2.6 V11 M0,9 H11" transform="translate(58.9 4.5) scale(1.0)" fill="none" stroke="#000" stroke-width="1.1" shape-rendering="geometricPrecision"/><defs><linearGradient id="gbk" x1="0" y1="0" x2="1" y2="1"><stop offset="0" stop-color="#F8D030"/><stop offset="0.6" stop-color="#E8B818"/><stop offset="1" stop-color="#C89010"/></linearGradient><linearGradient id="gcl" x1="0" y1="0" x2="0" y2="1"><stop offset="0" stop-color="#FFFFFF"/><stop offset="1" stop-color="#C4CCDC"/></linearGradient></defs><path d="M82.5,12.8 L86.2,9 L87.6,4.4 L96.4,10.3 L97.6,13.4 L90,18.4 Z" fill="url(#gbk)" stroke="#A06810" stroke-width="1" shape-rendering="geometricPrecision"/><path d="M83.5,13.2 L90,17.6" fill="none" stroke="#F8E8A0" stroke-width="1.2" shape-rendering="geometricPrecision"/><path d="M90.2,17.8 L97,13.2" fill="none" stroke="#D8C890" stroke-width="1" shape-rendering="geometricPrecision"/><rect x="112" y="3" width="11" height="10" fill="#1E8EF0" stroke="#1070D0" stroke-width="0.8"/><rect x="115" y="4" width="1" height="8" fill="#E8F4FF" /><rect x="117" y="7.5" width="5" height="1.3" fill="#E8F4FF" /><path d="M111.5,18.6 C109.2,18.4 109.6,14.4 112.8,14.8 C113.2,12.6 116.2,12.2 117.2,13.8 C118.2,11 123.2,11.2 123,14.6 C126.2,14.6 126.6,18.6 124.4,18.6 Z" fill="url(#gcl)" stroke="#3A5A9A" stroke-width="1" shape-rendering="geometricPrecision"/><circle cx="146" cy="11" r="7.2" fill="none" stroke="#8FB0E4" stroke-width="1.1" stroke-dasharray="4 1.2" shape-rendering="geometricPrecision"/><circle cx="146" cy="11" r="4.8" fill="none" stroke="#9CB8E6" stroke-width="1.1" stroke-dasharray="3 1" shape-rendering="geometricPrecision"/><path d="M151,16 A7.2,7.2 0 0 0 153,9" fill="none" stroke="#5CAA5C" stroke-width="1.3" shape-rendering="geometricPrecision"/><path d="M149.5,14 A4.8,4.8 0 0 0 150.6,9.5" fill="none" stroke="#6CB86C" stroke-width="1.2" shape-rendering="geometricPrecision"/><circle cx="146" cy="10.6" r="1.9" fill="#2F62CC" shape-rendering="geometricPrecision"/><rect x="145.8" y="11" width="1.4" height="7.8" fill="#22A022" /><path d="M165.8,10.6 L181,10 L175.2,18.6 L171.8,19 Z" fill="#F2D040" stroke="#C09018" stroke-width="0.9" shape-rendering="geometricPrecision"/><path d="M167.5,11.5 L172.5,17.5" fill="none" stroke="#FFF4A0" stroke-width="1.2" shape-rendering="geometricPrecision"/><ellipse cx="173.3" cy="7.6" rx="8" ry="2.6" fill="#5AB0E2" stroke="#2A86B8" stroke-width="0.9" shape-rendering="geometricPrecision"/><path d="M169.2,7.4 Q169.6,2.8 173.6,2.8 Q177.6,2.8 177.8,7.2 Z" fill="#6CBCE8" stroke="#2A86B8" stroke-width="0.9" shape-rendering="geometricPrecision"/><circle cx="177.6" cy="14.6" r="4.1" fill="#E02410" stroke="#B81808" stroke-width="0.8" shape-rendering="geometricPrecision"/><rect x="176.2" y="13.2" width="2.8" height="2.8" fill="#FFFFFF" /><path d="M5.3,0 L4.5,1.6 M1.8,1.8 H9.2 V11 H1.8 Z M1.8,4.8 H9.2 M1.8,7.8 H9.2" transform="translate(186.5 4.5) scale(1.0)" fill="none" stroke="#000" stroke-width="1.1" shape-rendering="geometricPrecision"/><path d="M0.6,1.4 H4.6 M0,3.8 H5.2 M2.6,3.8 L0.6,9.2 L4.6,8.4 M3.6,6.8 L5,9.6 M5.8,3.2 H10.6 Q10.6,10 9.8,10.8 L8.6,10.2 M8.4,0 V3.8 Q8.2,8.5 5.8,11" transform="translate(198.5 4.5) scale(1.0)" fill="none" stroke="#000" stroke-width="1.1" shape-rendering="geometricPrecision"/><path d="M5.5,0 V1.5 M0,2.2 H11 M3.6,3.2 L1,5.6 M7.4,3.2 L10,5.6 M2.2,5.4 Q5,10 10.6,11 M9,5.4 Q6,10 0.4,11" transform="translate(210.5 4.5) scale(1.0)" fill="none" stroke="#000" stroke-width="1.1" shape-rendering="geometricPrecision"/><path d="M2.4,0.2 H8.6 V4.8 H2.4 Z M2.4,2.5 H8.6 M2,5.8 H10.4 Q10.4,10.5 9.4,10.8 L8.4,10.2 M3.8,5.8 L0.4,9.2 M6.2,5.8 L3,10.6 M8.6,5.8 L5.4,11" transform="translate(222.5 4.5) scale(1.0)" fill="none" stroke="#000" stroke-width="1.1" shape-rendering="geometricPrecision"/><rect x="241" y="0" width="1" height="21" fill="#A0A0A0" /><rect x="245" y="1" width="3" height="1" fill="#A8A8A8" /><rect x="245" y="3" width="3" height="1" fill="#A8A8A8" /><rect x="245" y="5" width="3" height="1" fill="#A8A8A8" /><rect x="245" y="7" width="3" height="1" fill="#A8A8A8" /><rect x="245" y="9" width="3" height="1" fill="#A8A8A8" /><rect x="245" y="11" width="3" height="1" fill="#A8A8A8" /><rect x="245" y="13" width="3" height="1" fill="#A8A8A8" /><rect x="245" y="15" width="3" height="1" fill="#A8A8A8" /><rect x="245" y="17" width="3" height="1" fill="#A8A8A8" /><rect x="245" y="19" width="3" height="1" fill="#A8A8A8" /><rect x="259" y="5" width="1" height="14" fill="#555555" /><rect x="257" y="16" width="13" height="1" fill="#555555" /><path d="M257.5,7.5 L259.5,4.5 L261.5,7.5 Z" fill="#555555" stroke="none" stroke-width="1" shape-rendering="geometricPrecision"/><path d="M269,14 L271.8,16.5 L269,19 Z" fill="#555555" stroke="none" stroke-width="1" shape-rendering="geometricPrecision"/><rect x="264" y="6" width="1" height="8" fill="#1A8A1A" /><rect x="262" y="12" width="2" height="1" fill="#1A8A1A" /><rect x="265" y="7" width="2" height="1" fill="#1A8A1A" /><rect x="279" y="0" width="1" height="21" fill="#A0A0A0" /><rect x="281" y="0" width="23" height="21" fill="#F6F6F6" /><rect x="304" y="0" width="1" height="21" fill="#FFFFFF" /><rect x="281" y="21" width="24" height="1" fill="#FFFFFF" /><rect x="287" y="5" width="1" height="14" fill="#555555" /><rect x="285" y="16" width="13" height="1" fill="#555555" /><path d="M285.5,7.5 L287.5,4.5 L289.5,7.5 Z" fill="#555555" stroke="none" stroke-width="1" shape-rendering="geometricPrecision"/><path d="M297,14 L299.8,16.5 L297,19 Z" fill="#555555" stroke="none" stroke-width="1" shape-rendering="geometricPrecision"/><rect x="293" y="3" width="1" height="12" fill="#0A8A0A" /><rect x="291.5" y="5.5" width="4" height="8" fill="#44E044" stroke="#0A8A0A" stroke-width="1"/><rect x="315" y="5" width="1" height="14" fill="#555555" /><rect x="313" y="16" width="13" height="1" fill="#555555" /><path d="M313.5,7.5 L315.5,4.5 L317.5,7.5 Z" fill="#555555" stroke="none" stroke-width="1" shape-rendering="geometricPrecision"/><path d="M325,14 L327.8,16.5 L325,19 Z" fill="#555555" stroke="none" stroke-width="1" shape-rendering="geometricPrecision"/><path d="M314,12 Q318,5 321,7 Q323,9 326,11" fill="none" stroke="#1A8A1A" stroke-width="1" shape-rendering="geometricPrecision"/><rect x="336" y="0" width="1" height="21" fill="#A0A0A0" /><circle cx="351.5" cy="9" r="5.5" fill="#CFE3F8" stroke="#2F6FD0" stroke-width="1.2" shape-rendering="geometricPrecision"/><path d="M355,12.5 L360,17.5" fill="none" stroke="#C8A020" stroke-width="2.6" shape-rendering="geometricPrecision"/><rect x="348.5" y="8.3" width="6" height="1.6" fill="#2F6FD0" /><rect x="350.7" y="6" width="1.6" height="6" fill="#2F6FD0" /><circle cx="379.5" cy="9" r="5.5" fill="#CFE3F8" stroke="#2F6FD0" stroke-width="1.2" shape-rendering="geometricPrecision"/><path d="M383,12.5 L388,17.5" fill="none" stroke="#C8A020" stroke-width="2.6" shape-rendering="geometricPrecision"/><rect x="376.5" y="8.3" width="6" height="1.6" fill="#2F6FD0" /><rect x="401" y="3" width="7" height="7" fill="#2A9A2A" /><rect x="409" y="3" width="8" height="7" fill="#2F60C8" /><rect x="401" y="11" width="7" height="8" fill="#2F60C8" /><rect x="409" y="11" width="8" height="8" fill="#2A9A2A" /><rect x="402" y="6" width="5" height="2" fill="#E8F0F8" /><rect x="410" y="6" width="5" height="2" fill="#E8F0F8" /><rect x="402" y="14" width="5" height="2" fill="#E8F0F8" /><rect x="410" y="14" width="5" height="2" fill="#E8F0F8" /><rect x="426" y="0" width="1" height="21" fill="#A0A0A0" /><rect x="431" y="0" width="1" height="21" fill="#A0A0A0" /><rect x="433" y="0" width="23" height="21" fill="#F6F6F6" /><rect x="456" y="0" width="1" height="21" fill="#FFFFFF" /><rect x="433" y="21" width="24" height="1" fill="#FFFFFF" /><rect x="439" y="5" width="1" height="14" fill="#555555" /><rect x="437" y="16" width="13" height="1" fill="#555555" /><path d="M437.5,7.5 L439.5,4.5 L441.5,7.5 Z" fill="#555555" stroke="none" stroke-width="1" shape-rendering="geometricPrecision"/><path d="M449,14 L451.8,16.5 L449,19 Z" fill="#555555" stroke="none" stroke-width="1" shape-rendering="geometricPrecision"/><path d="M445,6 L449,9.5 L445,13 Z" fill="#20B020" stroke="none" stroke-width="1" shape-rendering="geometricPrecision"/><rect x="459" y="0" width="1" height="21" fill="#A0A0A0" /><rect x="461" y="0" width="23" height="21" fill="#F6F6F6" /><rect x="484" y="0" width="1" height="21" fill="#FFFFFF" /><rect x="461" y="21" width="24" height="1" fill="#FFFFFF" /><rect x="467" y="5" width="1" height="14" fill="#555555" /><rect x="465" y="16" width="13" height="1" fill="#555555" /><path d="M465.5,7.5 L467.5,4.5 L469.5,7.5 Z" fill="#555555" stroke="none" stroke-width="1" shape-rendering="geometricPrecision"/><path d="M477,14 L479.8,16.5 L477,19 Z" fill="#555555" stroke="none" stroke-width="1" shape-rendering="geometricPrecision"/><rect x="473" y="5" width="1" height="9" fill="#2060B0" /><path d="M479,9.5 L475,9.5 M477,7.5 L474.5,9.5 L477,11.5" fill="none" stroke="#E05010" stroke-width="1.2" shape-rendering="geometricPrecision"/><rect x="488" y="0" width="1" height="21" fill="#A0A0A0" /><rect x="498.5" y="3.5" width="8" height="11" fill="#FFFFFF" stroke="#707070" stroke-width="1"/><rect x="500.5" y="5.5" width="2" height="7" fill="#909090" /><path d="M505,10 h3.5 v3.5 h3.5 v3.5 h-3.5 v3.5 h-3.5 v-3.5 h-3.5 v-3.5 h3.5 Z" fill="#22D822" stroke="#0A8A0A" stroke-width="1" shape-rendering="geometricPrecision"/><path d="M519.5,10 L525.5,10 L522.5,13.5 Z" fill="#000" stroke="none" stroke-width="1" shape-rendering="geometricPrecision"/><circle cx="544" cy="11.2" r="7.9" fill="#2466CC" shape-rendering="geometricPrecision"/><circle cx="544" cy="11.2" r="5.4" fill="#F4F8FF" shape-rendering="geometricPrecision"/><path d="M544,7.5 V11 H547" fill="none" stroke="#333" stroke-width="1" shape-rendering="geometricPrecision"/><path d="M558.5,10 L564.5,10 L561.5,13.5 Z" fill="#000" stroke="none" stroke-width="1" shape-rendering="geometricPrecision"/><rect x="575.5" y="4.5" width="16" height="13" fill="#FFFFFF" stroke="#2F60C8" stroke-width="1"/><rect x="576" y="5" width="15" height="2" fill="#4A80D8" /><path d="M577,11 L580,10 L583,11 L586,9.5 L590,9.5" fill="none" stroke="#B03020" stroke-width="1" shape-rendering="geometricPrecision"/><path d="M577,15 L580,13.5 L583,15 L586,13 L590,14.5" fill="none" stroke="#20A020" stroke-width="1" shape-rendering="geometricPrecision"/><path d="M597.5,10 L603.5,10 L600.5,13.5 Z" fill="#000" stroke="none" stroke-width="1" shape-rendering="geometricPrecision"/><rect x="609" y="0" width="1" height="21" fill="#A0A0A0" /><rect x="612" y="1" width="3" height="1" fill="#A8A8A8" /><rect x="612" y="3" width="3" height="1" fill="#A8A8A8" /><rect x="612" y="5" width="3" height="1" fill="#A8A8A8" /><rect x="612" y="7" width="3" height="1" fill="#A8A8A8" /><rect x="612" y="9" width="3" height="1" fill="#A8A8A8" /><rect x="612" y="11" width="3" height="1" fill="#A8A8A8" /><rect x="612" y="13" width="3" height="1" fill="#A8A8A8" /><rect x="612" y="15" width="3" height="1" fill="#A8A8A8" /><rect x="612" y="17" width="3" height="1" fill="#A8A8A8" /><rect x="612" y="19" width="3" height="1" fill="#A8A8A8" /><rect x="619" y="0" width="1" height="21" fill="#A0A0A0" /><rect x="621" y="0" width="23" height="21" fill="#F6F6F6" /><rect x="644" y="0" width="1" height="21" fill="#FFFFFF" /><rect x="621" y="21" width="24" height="1" fill="#FFFFFF" /><path d="M627,4 L627,16 L630,13 L632.5,18 L634.5,17 L632,12 L636,12 Z" fill="#555555" stroke="none" stroke-width="1" shape-rendering="geometricPrecision"/><rect x="659" y="4" width="1" height="15" fill="#555555" /><rect x="652" y="11" width="15" height="1" fill="#555555" /><rect x="676" y="0" width="1" height="21" fill="#A0A0A0" /><rect x="693" y="5" width="1" height="13" fill="#505050" /><rect x="716" y="11" width="13" height="1.5" fill="#555555" /><line x1="744" y1="18" x2="756.5" y2="6" stroke="#555555" stroke-width="1.4" shape-rendering="geometricPrecision"/><path d="M769.5,12.6 L777.8,5.2 M771,16.6 L783.4,5.2 M775,17.8 L783.7,9.6" fill="none" stroke="#4A4A4A" stroke-width="1" shape-rendering="geometricPrecision"/><path d="M772.2,10.5 L772.6,17.5 M775.2,8.2 L775.6,15 M778.2,6 L778.6,12.6 M781.4,3.2 L781.6,10" fill="none" stroke="#4A4A4A" stroke-width="1.1" shape-rendering="geometricPrecision"/><path d="M781.2,15 H785 M781.2,15 V20 H785.2 M781.2,17.5 H784.4" fill="none" stroke="#3C3C3C" stroke-width="1.3" shape-rendering="geometricPrecision"/><line x1="799" y1="4.5" x2="812" y2="4.5" stroke="#4A4A4A" stroke-width="1" stroke-dasharray="1 1"/><line x1="799" y1="7.5" x2="812" y2="7.5" stroke="#4A4A4A" stroke-width="1" stroke-dasharray="1 1"/><line x1="799" y1="11.5" x2="812" y2="11.5" stroke="#4A4A4A" stroke-width="1" stroke-dasharray="1 1"/><line x1="799" y1="15.5" x2="808" y2="15.5" stroke="#4A4A4A" stroke-width="1" stroke-dasharray="1 1"/><path d="M809.6,15 H813 M809.6,15 V20 M809.6,17.4 H812.4" fill="none" stroke="#3C3C3C" stroke-width="1.4" shape-rendering="geometricPrecision"/><text x="829.3" y="16" font-size="12" fill="#505050">A</text><rect x="856.5" y="5.5" width="11" height="12" fill="none" stroke="#555" stroke-width="1" stroke-dasharray="1 1"/><rect x="855" y="4" width="2" height="1.5" fill="#444" /><rect x="858" y="7.8" width="8" height="1.5" fill="#505050" /><rect x="861.2" y="7.8" width="1.6" height="8" fill="#505050" /><path d="M883,8.8 L886.4,5.1 L889.7,8.8 L888.3,8.8 L888.3,9.8 L884.5,9.8 L884.5,8.8 Z" fill="#4A4A4A" stroke="none" stroke-width="1" shape-rendering="geometricPrecision"/><path d="M890.3,14.5 L896.9,14.5 L893.4,17.8 Z M891.8,13.3 L895.2,13.3 L895.2,14.6 L891.8,14.6 Z" fill="#4A4A4A" stroke="none" stroke-width="1" shape-rendering="geometricPrecision"/><path d="M885.3,12.5 L887.4,14.6 L891.8,9.4" fill="none" stroke="#3A3A3A" stroke-width="1.3" shape-rendering="geometricPrecision"/><path d="M903.5,10 L909.5,10 L906.5,13.5 Z" fill="#000" stroke="none" stroke-width="1" shape-rendering="geometricPrecision"/><rect x="915" y="0" width="1" height="21" fill="#A0A0A0" /><rect x="919" y="1" width="3" height="1" fill="#A8A8A8" /><rect x="919" y="3" width="3" height="1" fill="#A8A8A8" /><rect x="919" y="5" width="3" height="1" fill="#A8A8A8" /><rect x="919" y="7" width="3" height="1" fill="#A8A8A8" /><rect x="919" y="9" width="3" height="1" fill="#A8A8A8" /><rect x="919" y="11" width="3" height="1" fill="#A8A8A8" /><rect x="919" y="13" width="3" height="1" fill="#A8A8A8" /><rect x="919" y="15" width="3" height="1" fill="#A8A8A8" /><rect x="919" y="17" width="3" height="1" fill="#A8A8A8" /><rect x="919" y="19" width="3" height="1" fill="#A8A8A8" /><rect x="1065" y="0" width="1" height="21" fill="#A0A0A0" /><rect x="1066" y="0" width="24" height="21" fill="#F6F6F6" /><rect x="1090" y="0" width="1" height="21" fill="#FFFFFF" /><rect x="1066" y="21" width="25" height="1" fill="#FFFFFF" /><text transform="translate(930.5 15.6) scale(0.85 1)" font-size="11.6" fill="#3C3C3C">M1</text><text transform="translate(958.5 15.6) scale(0.85 1)" font-size="11.6" fill="#3C3C3C">M5</text><text transform="translate(984.7 15.6) scale(0.85 1)" font-size="11.6" fill="#3C3C3C">M15</text><text transform="translate(1012.8 15.6) scale(0.85 1)" font-size="11.6" fill="#3C3C3C">M30</text><text transform="translate(1043.5 15.6) scale(0.85 1)" font-size="11.6" fill="#3C3C3C">H1</text><text transform="translate(1070.7 15.6) scale(0.85 1)" font-size="11.6" fill="#3C3C3C">H4</text><text transform="translate(1099.6 15.6) scale(0.85 1)" font-size="11.6" fill="#3C3C3C">D1</text><text transform="translate(1127 15.6) scale(0.85 1)" font-size="11.6" fill="#3C3C3C">W1</text><text transform="translate(1153.7 15.6) scale(0.85 1)" font-size="11.6" fill="#3C3C3C">MN</text><rect x="1176" y="0" width="1" height="21" fill="#A0A0A0" /><circle cx="1646.4" cy="8.3" r="3.7" fill="#F4F6FF" stroke="#2A5CCB" stroke-width="1.4" shape-rendering="geometricPrecision"/><line x1="1643.5" y1="11.5" x2="1639.5" y2="15.8" stroke="#2A5CCB" stroke-width="2.6" shape-rendering="geometricPrecision" stroke-linecap="round"/><path d="M1664,13 Q1664,8.5 1669.5,8.5 Q1675.5,8.5 1675.5,13 Q1675.5,17 1669.5,17 L1667.5,19.5 L1667.5,16.8 Q1664,16 1664,13 Z" fill="#E4E6EE" stroke="#9A9A9A" stroke-width="0.9" shape-rendering="geometricPrecision"/><circle cx="1677.4" cy="8.2" r="7.9" fill="#DD3A22" shape-rendering="geometricPrecision"/><text x="1674.3" y="12.8" font-size="11.5" font-weight="bold" fill="#FFFFFF" font-family="Liberation Serif">1</text></g>
</svg>
</body></html>
